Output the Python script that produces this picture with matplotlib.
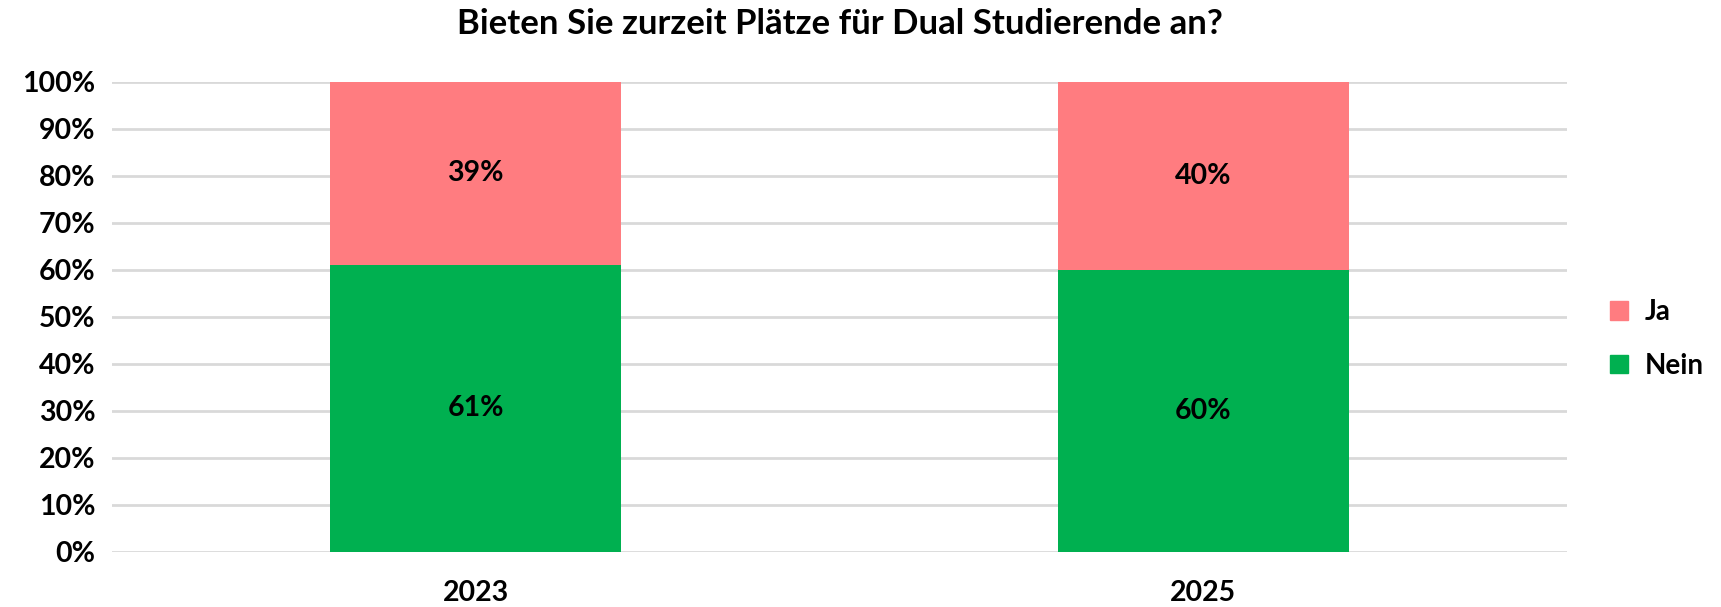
import matplotlib
matplotlib.use("Agg")
import matplotlib.pyplot as plt
from matplotlib.patches import Patch

years = ["2023", "2025"]
nein = [61, 60]
ja = [39, 40]
title = "Bieten Sie zurzeit Plätze für Dual Studierende an?"

plt.rcParams['font.family'] = ['Lato', 'DejaVu Sans']
plt.rcParams['font.weight'] = 'bold'

W, H = 1721, 607
fig = plt.figure(figsize=(W / 100, H / 100), dpi=100)
ax = fig.add_axes([112 / W, 1 - 552 / H, (1567 - 112) / W, (552 - 81.5) / H])

x = range(len(years))
green = "#00B050"
pink = "#FF7C80"
ax.bar(x, nein, width=0.4, color=green, zorder=3)
ax.bar(x, ja, width=0.4, bottom=nein, color=pink, zorder=3)

fs = 20.5
for i in x:
    ax.text(i, nein[i] / 2, f"{nein[i]}%", ha="center", va="center", fontsize=fs, fontweight="bold", zorder=4)
    ax.text(i, nein[i] + ja[i] / 2, f"{ja[i]}%", ha="center", va="center", fontsize=fs, fontweight="bold", zorder=4)

ax.set_xlim(-0.5, 1.5)
ax.set_ylim(0, 100)
ax.set_yticks(range(0, 101, 10))
ax.set_yticklabels([f"{v}%" for v in range(0, 101, 10)], fontsize=fs, fontweight="bold")
ax.set_xticks(list(x))
ax.set_xticklabels(years, fontsize=fs, fontweight="bold")
ax.tick_params(axis="both", length=0)
ax.tick_params(axis="y", pad=12)
ax.tick_params(axis="x", pad=20)
ax.grid(axis="y", color="#D9D9D9", linewidth=2, zorder=0)
for s in ax.spines.values():
    s.set_visible(False)

fig.text(0.5 * (112 + 1567) / W, 1 - 24 / H, title, ha="center", va="center", fontsize=25, fontweight="bold")

handles = [Patch(color=pink, label="Ja"), Patch(color=green, label="Nein")]
fig.legend(handles=handles, loc="center left", bbox_to_anchor=(1610 / W, 1 - 339 / H), frameon=False,
           borderpad=0, borderaxespad=0,
           handlelength=0.65, handleheight=0.65, handletextpad=0.6, labelspacing=1.0,
           prop={'weight': 'bold', 'size': 20})

fig.savefig("out.png", dpi=100)
